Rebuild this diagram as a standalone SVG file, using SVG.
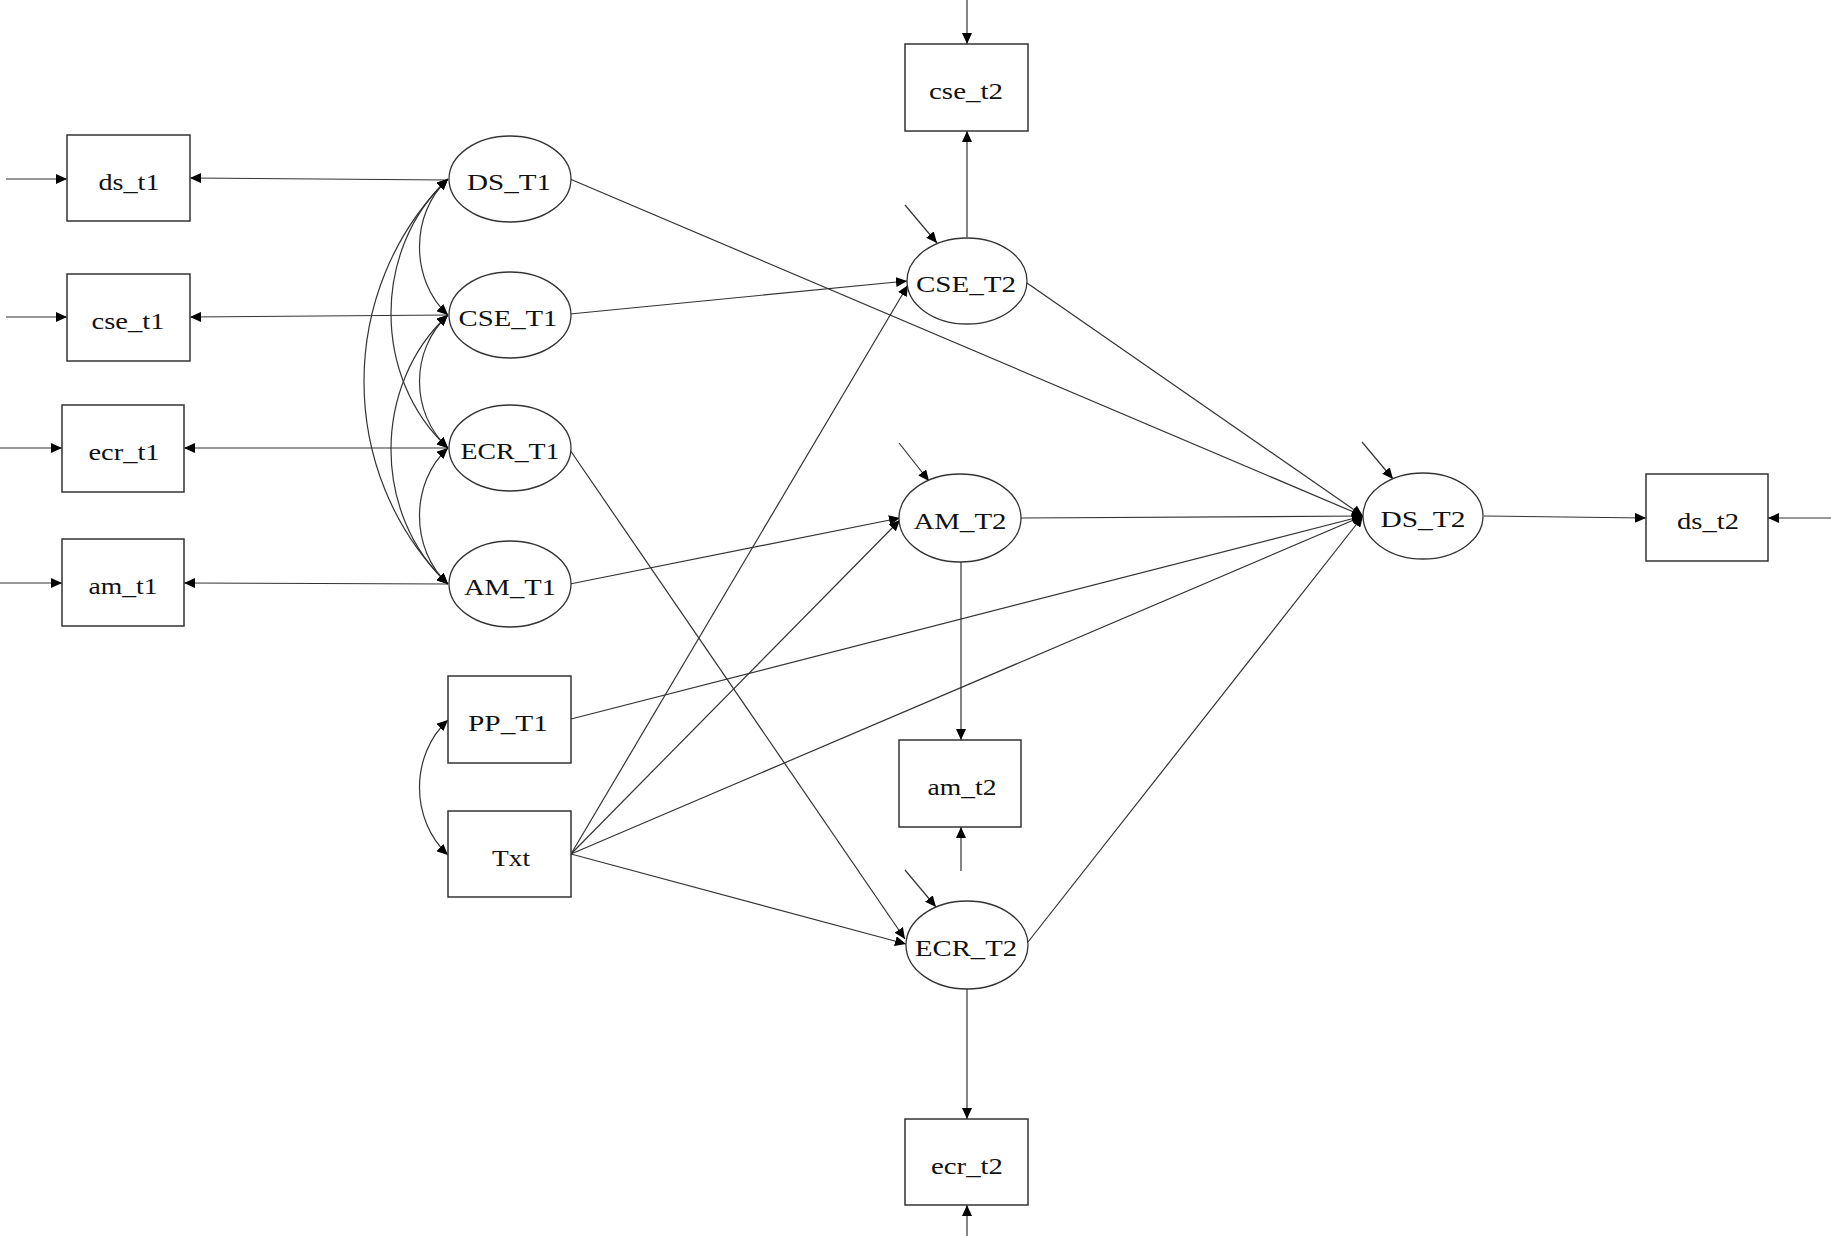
<svg xmlns="http://www.w3.org/2000/svg" width="1831" height="1236" viewBox="0 0 1831 1236">
<style>
.box{fill:#fff;stroke:#333;stroke-width:1.5}
.lat{fill:#fff;stroke:#333;stroke-width:1.3}
.lbl{font-family:"Liberation Serif","Times New Roman",serif;font-size:24px;fill:#111;text-anchor:middle}
.e{fill:none;stroke:#333;stroke-width:1.2;marker-end:url(#ah)}
.b{fill:none;stroke:#333;stroke-width:1.2;marker-start:url(#ah);marker-end:url(#ah)}
</style>
<defs>
<marker id="ah" viewBox="0 0 11 10" refX="11" refY="5" markerWidth="11" markerHeight="10" markerUnits="userSpaceOnUse" orient="auto-start-reverse">
<path d="M0,0 L11,5 L0,10 z" fill="#000"/>
</marker>
</defs>
<rect width="1831" height="1236" fill="#fff"/>

<g id="connectors">
<path class="e" d="M6,179 L67,179"/>
<path class="e" d="M6,317 L67,317"/>
<path class="e" d="M0,448 L62,448"/>
<path class="e" d="M0,583 L62,583"/>
<path class="e" d="M967,0 L967,44"/>
<path class="e" d="M1831,518 L1768,518"/>
<path class="e" d="M961,871 L961,827"/>
<path class="e" d="M967,1236 L967,1205"/>
<path class="e" d="M905,205 L937,243"/>
<path class="e" d="M899,443 L929,481"/>
<path class="e" d="M905,870 L936,907"/>
<path class="e" d="M1362,442 L1393,479"/>
<path class="e" d="M448,180 L190,178"/>
<path class="e" d="M448,315 L190,317"/>
<path class="e" d="M448,448 L184,448"/>
<path class="e" d="M448,584 L184,583"/>
<path class="b" d="M448,179 C410,214 410,280 448,315"/>
<path class="b" d="M448,315 C410,350 410,413 448,448"/>
<path class="b" d="M448,448 C410,483 410,549 448,584"/>
<path class="b" d="M448,179 C372,249 372,378 448,448"/>
<path class="b" d="M448,315 C372,385 372,514 448,584"/>
<path class="b" d="M448,179 C336,289 336,474 448,584"/>
<path class="b" d="M448,720 C410,755 410,820 448,855"/>
<path class="e" d="M967,237 L967,131"/>
<path class="e" d="M961,561 L961,740"/>
<path class="e" d="M967,989 L967,1119"/>
<path class="e" d="M1484,516 L1646,518"/>
<path class="e" d="M570,314 L907,281"/>
<path class="e" d="M570,584 L900,518"/>
<path class="e" d="M570,450 L905,939"/>
<path class="e" d="M571,854 L908,285"/>
<path class="e" d="M571,854 L900,520"/>
<path class="e" d="M571,854 L906,944"/>
<path class="e" d="M571,854 L1363,516"/>
<path class="e" d="M571,719 L1363,516"/>
<path class="e" d="M570,179 L1363,516"/>
<path class="e" d="M1027,283 L1363,516"/>
<path class="e" d="M1021,518 L1363,516"/>
<path class="e" d="M1028,942 L1363,516"/>
</g>

<g id="ds_t1"><rect class="box" x="67" y="135" width="123" height="86"/><text class="lbl" x="129" y="190" textLength="61" lengthAdjust="spacingAndGlyphs">ds_t1</text></g>
<g id="cse_t1"><rect class="box" x="67" y="274" width="123" height="87"/><text class="lbl" x="128" y="329" textLength="73" lengthAdjust="spacingAndGlyphs">cse_t1</text></g>
<g id="ecr_t1"><rect class="box" x="62" y="405" width="122" height="87"/><text class="lbl" x="124" y="460" textLength="71" lengthAdjust="spacingAndGlyphs">ecr_t1</text></g>
<g id="am_t1"><rect class="box" x="62" y="539" width="122" height="87"/><text class="lbl" x="123" y="594" textLength="69" lengthAdjust="spacingAndGlyphs">am_t1</text></g>

<g id="DS_T1"><ellipse class="lat" cx="510" cy="179" rx="61" ry="43"/><text class="lbl" x="509" y="190" textLength="84" lengthAdjust="spacingAndGlyphs">DS_T1</text></g>
<g id="CSE_T1"><ellipse class="lat" cx="510" cy="315" rx="61" ry="43"/><text class="lbl" x="508" y="326" textLength="99" lengthAdjust="spacingAndGlyphs">CSE_T1</text></g>
<g id="ECR_T1"><ellipse class="lat" cx="510" cy="448" rx="61" ry="43"/><text class="lbl" x="510" y="459" textLength="99" lengthAdjust="spacingAndGlyphs">ECR_T1</text></g>
<g id="AM_T1"><ellipse class="lat" cx="510" cy="584" rx="61" ry="43"/><text class="lbl" x="510" y="595" textLength="92" lengthAdjust="spacingAndGlyphs">AM_T1</text></g>

<g id="PP_T1"><rect class="box" x="448" y="676" width="123" height="87"/><text class="lbl" x="508" y="731" textLength="80" lengthAdjust="spacingAndGlyphs">PP_T1</text></g>
<g id="Txt"><rect class="box" x="448" y="811" width="123" height="86"/><text class="lbl" x="511" y="866" textLength="38" lengthAdjust="spacingAndGlyphs">Txt</text></g>

<g id="cse_t2"><rect class="box" x="905" y="44" width="123" height="87"/><text class="lbl" x="966" y="99" textLength="74" lengthAdjust="spacingAndGlyphs">cse_t2</text></g>
<g id="CSE_T2"><ellipse class="lat" cx="967" cy="281" rx="60" ry="43"/><text class="lbl" x="966" y="292" textLength="100" lengthAdjust="spacingAndGlyphs">CSE_T2</text></g>
<g id="AM_T2"><ellipse class="lat" cx="960" cy="518" rx="61" ry="44"/><text class="lbl" x="960" y="529" textLength="93" lengthAdjust="spacingAndGlyphs">AM_T2</text></g>
<g id="am_t2"><rect class="box" x="899" y="740" width="122" height="87"/><text class="lbl" x="962" y="795" textLength="69" lengthAdjust="spacingAndGlyphs">am_t2</text></g>
<g id="ECR_T2"><ellipse class="lat" cx="967" cy="945" rx="61" ry="44"/><text class="lbl" x="966" y="956" textLength="102" lengthAdjust="spacingAndGlyphs">ECR_T2</text></g>
<g id="ecr_t2"><rect class="box" x="905" y="1119" width="123" height="86"/><text class="lbl" x="967" y="1174" textLength="72" lengthAdjust="spacingAndGlyphs">ecr_t2</text></g>

<g id="DS_T2"><ellipse class="lat" cx="1423" cy="516" rx="60" ry="43"/><text class="lbl" x="1423" y="527" textLength="85" lengthAdjust="spacingAndGlyphs">DS_T2</text></g>
<g id="ds_t2"><rect class="box" x="1646" y="474" width="122" height="87"/><text class="lbl" x="1708" y="529" textLength="62" lengthAdjust="spacingAndGlyphs">ds_t2</text></g>
</svg>
